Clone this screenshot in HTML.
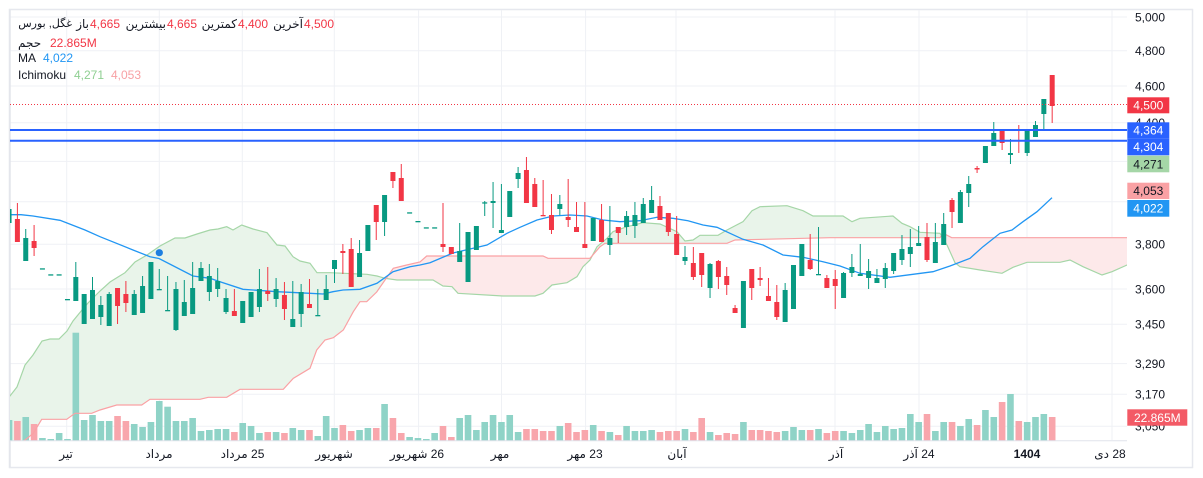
<!DOCTYPE html>
<html><head><meta charset="utf-8">
<style>
html,body{margin:0;padding:0;background:#fff;width:1203px;height:478px;overflow:hidden;}
body{position:relative;font-family:"Liberation Sans","DejaVu Sans",sans-serif;}
svg{position:absolute;left:0;top:0;display:block;}
.lg{position:absolute;font-size:12px;line-height:16px;white-space:nowrap;color:#131722;}
.r{color:#f23645}
</style></head><body>
<svg id="s" width="1203" height="478" viewBox="0 0 1203 478" xmlns="http://www.w3.org/2000/svg" font-family="Liberation Sans, DejaVu Sans, sans-serif" font-size="12" overflow="hidden">
<defs>
 <clipPath id="plot"><rect x="10" y="10" width="1117" height="430.5"/></clipPath>
 <clipPath id="cg"><path id="cgp" d=""/></clipPath>
 <clipPath id="cr"><path id="crp" d=""/></clipPath>
</defs>
<rect x="9.5" y="9.5" width="1183" height="458" fill="#fff" stroke="#e6e8ee" stroke-width="1.5"/>
<g stroke="#eff1f5" stroke-width="1">
 <line x1="10" x2="1127" y1="17" y2="17"/>
 <line x1="10" x2="1127" y1="50.8" y2="50.8"/>
 <line x1="10" x2="1127" y1="86" y2="86"/>
 <line x1="10" x2="1127" y1="122.8" y2="122.8"/>
 <line x1="10" x2="1127" y1="161.4" y2="161.4"/>
 <line x1="10" x2="1127" y1="201.8" y2="201.8"/>
 <line x1="10" x2="1127" y1="244.2" y2="244.2"/>
 <line x1="10" x2="1127" y1="289" y2="289"/>
 <line x1="10" x2="1127" y1="324.2" y2="324.2"/>
 <line x1="10" x2="1127" y1="363.6" y2="363.6"/>
 <line x1="10" x2="1127" y1="394.3" y2="394.3"/>
 <line x1="10" x2="1127" y1="426.3" y2="426.3"/>
 <line y1="10" y2="440" x1="66.7" x2="66.7"/>
 <line y1="10" y2="440" x1="159.3" x2="159.3"/>
 <line y1="10" y2="440" x1="242.3" x2="242.3"/>
 <line y1="10" y2="440" x1="334.3" x2="334.3"/>
 <line y1="10" y2="440" x1="418.6" x2="418.6"/>
 <line y1="10" y2="440" x1="501.5" x2="501.5"/>
 <line y1="10" y2="440" x1="585.6" x2="585.6"/>
 <line y1="10" y2="440" x1="676" x2="676"/>
 <line y1="10" y2="440" x1="835" x2="835"/>
 <line y1="10" y2="440" x1="919" x2="919"/>
 <line y1="10" y2="440" x1="1027" x2="1027"/>
 <line y1="10" y2="440" x1="1112" x2="1112"/>
</g>
<line x1="10" y1="10" x2="10" y2="467" stroke="#e3e5eb" stroke-width="1.5"/>
<g clip-path="url(#plot)">
  <path id="fg" fill="#e9f4ea" clip-path="url(#cg)" d=""/>
  <path id="fr" fill="#fde9ea" clip-path="url(#cr)" d=""/>
  <g id="vol"></g>
  <polyline id="la" fill="none" stroke="#a5d6a7" stroke-width="1.2" points=""/>
  <polyline id="lb" fill="none" stroke="#faa1a4" stroke-width="1.2" points=""/>
  <polyline id="ma" fill="none" stroke="#2196f3" stroke-width="1.3" points=""/>
  <circle cx="159.3" cy="252.7" r="3.6" fill="#1e7fe0"/>
  <g id="cnd"></g>
  <line x1="10" x2="1127" y1="104.5" y2="104.5" stroke="#f23645" stroke-width="1" stroke-dasharray="1 2"/>
  <line x1="10" x2="1127" y1="130" y2="130" stroke="#2962ff" stroke-width="2"/>
  <line x1="10" x2="1127" y1="140.7" y2="140.7" stroke="#2962ff" stroke-width="2"/>
</g>
<line x1="10" x2="1127" y1="440.7" y2="440.7" stroke="#e0e3eb" stroke-width="1"/>
<g fill="#131722">
 <text x="1135" y="21.3">5,000</text>
 <text x="1135" y="55.1">4,800</text>
 <text x="1135" y="90.3">4,600</text>
 <text x="1135" y="127">4,400</text>
 <text x="1135" y="248.5">3,800</text>
 <text x="1135" y="293.3">3,600</text>
 <text x="1135" y="328.5">3,450</text>
 <text x="1135" y="367.9">3,290</text>
 <text x="1135" y="398.6">3,170</text>
 <text x="1135" y="430.6">3,050</text>
</g>
<rect x="1127.3" y="97.3" width="42" height="16" fill="#f23645"/>
<text x="1148.3" y="109.6" fill="#fff" text-anchor="middle">4,500</text>
<rect x="1127.3" y="122.3" width="42" height="16" fill="#2962ff"/>
<text x="1148.3" y="134.6" fill="#fff" text-anchor="middle">4,364</text>
<rect x="1127.3" y="138.3" width="42" height="17" fill="#2962ff"/>
<text x="1148.3" y="151" fill="#fff" text-anchor="middle">4,304</text>
<rect x="1127.3" y="155.7" width="42" height="16.6" fill="#a5d6a7"/>
<text x="1148.3" y="168.3" fill="#131722" text-anchor="middle">4,271</text>
<rect x="1127.3" y="182.7" width="42" height="16.3" fill="#faa1a4"/>
<text x="1148.3" y="195.2" fill="#131722" text-anchor="middle">4,053</text>
<rect x="1127.3" y="200" width="42" height="16.7" fill="#2196f3"/>
<text x="1148.3" y="212.6" fill="#fff" text-anchor="middle">4,022</text>
<rect x="1127.3" y="409.3" width="60" height="16.4" fill="#f35a66"/>
<text x="1157.3" y="421.8" fill="#fff" text-anchor="middle">22.865M</text>
<g fill="#131722" text-anchor="middle">
 <text x="66" y="458" direction="rtl">تیر</text>
 <text x="159" y="458" direction="rtl">مرداد</text>
 <text x="242.5" y="458" direction="rtl">25 مرداد</text>
 <text x="334" y="458" direction="rtl">شهریور</text>
 <text x="417" y="458" direction="rtl">26 شهریور</text>
 <text x="500" y="458" direction="rtl">مهر</text>
 <text x="585" y="458" direction="rtl">23 مهر</text>
 <text x="677" y="458" direction="rtl">آبان</text>
 <text x="836" y="458" direction="rtl">آذر</text>
 <text x="919" y="458" direction="rtl">24 آذر</text>
 <text x="1027" y="458" font-weight="bold">1404</text>
 <text x="1110" y="458" direction="rtl">28 دی</text>
</g>
</svg>

<div class="lg" style="right:1131px;top:16px;font-size:11px;">غگل, بورس</div>
<div class="lg" style="right:1114px;top:16px;">باز</div>
<div class="lg r" style="left:90px;top:16px;">4,665</div>
<div class="lg" style="right:1037px;top:16px;">بیشترین</div>
<div class="lg r" style="left:167px;top:16px;">4,665</div>
<div class="lg" style="right:966px;top:16px;">کمترین</div>
<div class="lg r" style="left:238px;top:16px;">4,400</div>
<div class="lg" style="right:900px;top:16px;">آخرین</div>
<div class="lg r" style="left:304px;top:16px;">4,500</div>

<div class="lg" style="left:18px;top:35px;">حجم</div>
<div class="lg r" style="left:50px;top:35px;">22.865M</div>

<div class="lg" style="left:18px;top:50px;">MA</div>
<div class="lg" style="left:43px;top:50px;color:#2196f3;">4,022</div>

<div class="lg" style="left:18px;top:67px;">Ichimoku</div>
<div class="lg" style="left:74px;top:67px;color:#8fcf92;">4,271</div>
<div class="lg" style="left:111px;top:67px;color:#f7a1a4;">4,053</div>

<script>
(function(){
const NS="http://www.w3.org/2000/svg";
function el(t,a,p){const e=document.createElementNS(NS,t);for(const k in a)e.setAttribute(k,a[k]);p.appendChild(e);return e;}
const X0=17.4,DX=8.345,G="#089981",R="#f23645";
const C=[
['g',209,223,209,223],
['r',203,242,219,242],['g',229,261,238,261],['r',225,256,241,248],['g',268.3,268.3,268.3,268.3],['g',274.3,274.3,274.3,274.3],
['g',274.3,274.3,274.3,274.3],['g',299,299,299,299],['g',262,301,277,301],['g',294,324,294,324],['g',277,319,290,319],
['g',296,325,305,317],['g',292,326,294,326],['r',288,324,288,306],['r',281,312,294,303],['g',290,315,294,315],
['g',276,313,286,313],['g',262,299,262,299],['g',269,289,289,289],['g',276,311,310,310],['g',282,331,289,330],
['g',280,316,302,316],['g',262,314,288,314],['g',262,281,268,281],['g',264,301,276,292],['g',268,297,281,289],
['g',289,314,298,312],['r',289,316,311,316],['g',301,323,301,323],['g',292,317,292,317],['g',269,312,289,307],
['r',267,301,291,294],['g',278,307,289,299],['r',282,320,295,309],['g',281,327,319,327],['g',284,327,292,314],
['r',279,308,304,308],['g',289,315,315,315],['g',275,300,289,300],['g',260,283,260,269],['r',244,274,251,253],
['r',238,287,249,287],['g',240,277,253,277],['g',225,251,225,251],['r',205,240,205,222],['g',195,236,195,222],
['r',172,188,172,181],['r',164,201,178,201],['g',212.3,212.3,212.3,212.3],['g',221,221,221,221],['g',227.3,227.3,227.3,227.3],
['g',227.3,227.3,227.3,227.3],['r',203,252,244,247],['r',247,254,247,254],['g',223,262,251,262],['g',232,282,232,282],
['g',226,250,226,250],['g',201,216,202.3,202.3],['g',182,228,201,203],['g',184,233,230,233],['g',191,217,191,217],
['g',167,188,173,179],['r',157,203,170,203],['r',178,207,184,207],['r',180,215,215,215],['r',194,234,215,230],
['g',195,215,204,209],['r',179,227,217,220],['r',202,232,227,232],['r',202,248,244,248],['g',218,241,218,241],
['r',204,242,220,242],['g',206,255,238,245],['r',227,243,227,233],['g',211,235,216,227],['g',202,238,215,226],
['g',198,223,204,223],['g',186,213,200,213],['r',196,220,206,220],['r',213,236,213,232],['r',216,255,234,255],
['g',246,265,257,261],['r',247,280,263,277],['r',253,287,253,275],['g',263,298,264,288],['r',260,289,261,277],
['r',267,295,276,285],['r',305,313,308,313],['g',281,328,281,328],['r',269,300,269,288],['r',267,286,278,280],
['r',278,301,296,301],['r',285,320,302,317],['g',283,322,290,322],['g',265,309,265,309],['g',244,276,244,276],
['r',234,270,260,269],['g',227,274,274,274],['r',275,288,278,288],['r',270,309,279,286],['g',272,298,273,298],
['g',254,277,267,273],['g',244,276,274,276],['g',259,289,271,278],['g',269,283,278,283],['g',263,288,268,279],
['g',253,274,253,271],['g',235,265,249,260],['g',229,267,247,254],['g',226,246,243,246],['r',223,262,237,260],
['g',223,263,242,263],['g',213,245,224,245],['r',198,228,200,212],['g',190,223,192,223],['g',176,207,184,193],
['r',166,173,168,169.5],['g',146,163,146,163],['g',122,146,133,146],['r',130,150,130,143],['g',139,164,153,155],
['r',125,153,129,131],['g',130,156,130,153],['g',121,137,125,137],['g',99,130,99,114],['r',75,123,75,106]
];
const V=[
['t',420],
['r',421],['t',417],['r',424],['t',438],['t',439],['t',433],['t',439],['t',332.7],['t',420],['t',415],
['t',421],['t',421],['r',416],['r',421],['t',424],['t',427],['t',422],['t',401],['t',406.7],['t',421],
['t',421],['t',418],['t',431],['t',430],['t',429],['t',429],['r',432],['t',423],['t',426],['t',433],
['r',432],['t',432],['r',433],['t',428],['t',430],['r',430],['t',436],['t',416],['t',428],['r',425],
['r',431],['t',430],['t',428],['r',428],['t',404],['r',418],['r',433],['t',437],['t',438],['t',439],
['t',433],['r',426],['r',437],['t',418],['t',415],['t',430],['t',422],['t',415],['t',422],['t',415],
['t',432],['r',429],['r',429],['r',431],['r',431],['t',426],['r',423],['r',432],['r',430],['t',425],
['r',431],['t',432],['r',435],['t',426],['t',431],['t',431],['t',430],['r',432],['r',431],['r',431],
['t',429],['r',432],['r',418],['t',432],['r',435],['r',433],['r',434],['t',422],['r',430],['r',430],
['r',431],['r',432],['t',431],['t',427],['t',430],['r',430],['t',429],['r',433],['r',431],['t',431],
['t',433],['t',430],['t',424],['t',432],['t',426],['t',429],['t',428],['t',414],['t',422],['r',414],
['t',431],['t',422],['r',422],['t',426],['t',419],['r',425],['t',410],['t',417],['r',402],['t',394],
['r',421],['t',422],['t',417],['t',414],['r',417]
];
const vg=document.getElementById('vol');
V.forEach((v,j)=>{const x=X0+DX*(j-1);el('rect',{x:(x-3.3).toFixed(2),y:v[1],width:6.6,height:(440.7-v[1]).toFixed(2),fill:v[0]=='t'?'#8fd3c7':'#f8a6ac'},vg);});
const cg=document.getElementById('cnd');
C.forEach((c,j)=>{const x=X0+DX*(j-1);const col=c[0]=='g'?G:R;
 if(c[2]>c[1]) el('rect',{x:(x-0.5).toFixed(2),y:c[1],width:1,height:c[2]-c[1],fill:col},cg);
 el('rect',{x:(x-2.5).toFixed(2),y:c[3],width:5,height:Math.max(1.3,c[4]-c[3]),fill:col},cg);});
const A=[[5,400],[10,396],[17,387],[25,365],[33,355],[42,341],[50,339],[59,339],[67,331],[73,321],[82,310],[88,303],[100,291],[110,282],[118,277],[125,272.7],[135,262],[147,255],[160,246],[175,238],[185,238],[197,234],[210,230],[218,229],[226.7,226.7],[233,230],[241.7,225],[253,229],[267,232.7],[277,245],[285,246],[293,256.7],[300,261],[310,263.3],[317,272.7],[330,272.7],[367,274.3],[377,276],[385,278.3],[397,280],[433,280],[443,286],[452,286.7],[458,293.3],[503,296],[535,296],[543,293.3],[552,285],[567,282.7],[577,276.7],[583,266.7],[590,260],[597,246.7],[607,238.3],[613,231.7],[627,226.7],[643,222.7],[660,224],[677,231.7],[685,241],[693,240],[700,235.3],[718,235.3],[727,230],[743,221.7],[752,210.7],[760,206.7],[787,205.7],[803,210.7],[813,216],[843,216],[852,221.7],[860,218.3],[893,216],[902,223.3],[910,226.7],[920,232.3],[940,233.3],[947,245],[955,262.7],[960,266.7],[980,270],[1002,273.3],[1013,267.3],[1027,262.3],[1060,262.3],[1070,260],[1083,266.7],[1102,275],[1112,271.7],[1127,265],[1135,262]];
const B=[[5,455],[25,440],[33.3,433.3],[41.7,419.3],[66.7,419.3],[75,413.3],[91.7,413.3],[100,410],[116.7,405],[141.7,405],[150,399.3],[200,399.3],[208.3,397.3],[226.7,397.3],[240,389.3],[283.3,389.3],[293.3,378.3],[310,368.3],[316.7,350],[325,340],[333.3,337.7],[343.3,330],[353.3,311.7],[360,301.7],[366.7,301.7],[376.7,292],[385,280],[393.3,268.3],[406.7,265],[420,262],[426.7,256],[543,256],[548,258.3],[590,258.3],[600,246.7],[605,243.3],[727,243.3],[735,240],[763,239.3],[830,237.7],[940,237.7],[943.3,233.3],[951.7,237.7],[1135,237.7]];
const MA=[[10,214.7],[21,214.7],[33,216],[60,220.3],[85,230],[100,236.7],[133,250],[150,256.7],[159,258.5],[193,276],[210,278.3],[220,281.7],[243,289.3],[277,291.7],[310,293.3],[323,294],[333,291.7],[343,290],[360,289.3],[377,283.3],[393,271.7],[410,266.7],[420,265],[430,262.7],[453,253],[487,245],[507,233.3],[520,227.3],[537,220],[553,216],[570,215],[587,216],[603,220],[620,221.7],[640,220.7],[657,217.3],[673,218.3],[688,220.7],[703,225],[717,227.3],[730,233.3],[743,239.3],[763,245],[783,255],[803,257.3],[823,261.7],[840,266],[860,273.3],[890,277.3],[933,271.7],[950,266],[970,258.3],[983,246.7],[1000,233.3],[1012,230],[1023,221.7],[1037,211.7],[1052,197.7]];
const pts=a=>a.map(p=>p[0]+','+p[1]).join(' ');
const ln=a=>'M'+a.map(p=>p[0]+','+p[1]).join(' L');
document.getElementById('la').setAttribute('points',pts(A));
document.getElementById('lb').setAttribute('points',pts(B));
document.getElementById('ma').setAttribute('points',pts(MA));
document.getElementById('fg').setAttribute('d',ln(A)+' L1140,470 L5,470 Z');
document.getElementById('cgp').setAttribute('d',ln(B)+' L1140,5 L5,5 Z');
document.getElementById('fr').setAttribute('d',ln(B)+' L1140,470 L5,470 Z');
document.getElementById('crp').setAttribute('d',ln(A)+' L1140,5 L5,5 Z');
})();
</script>
</body></html>
